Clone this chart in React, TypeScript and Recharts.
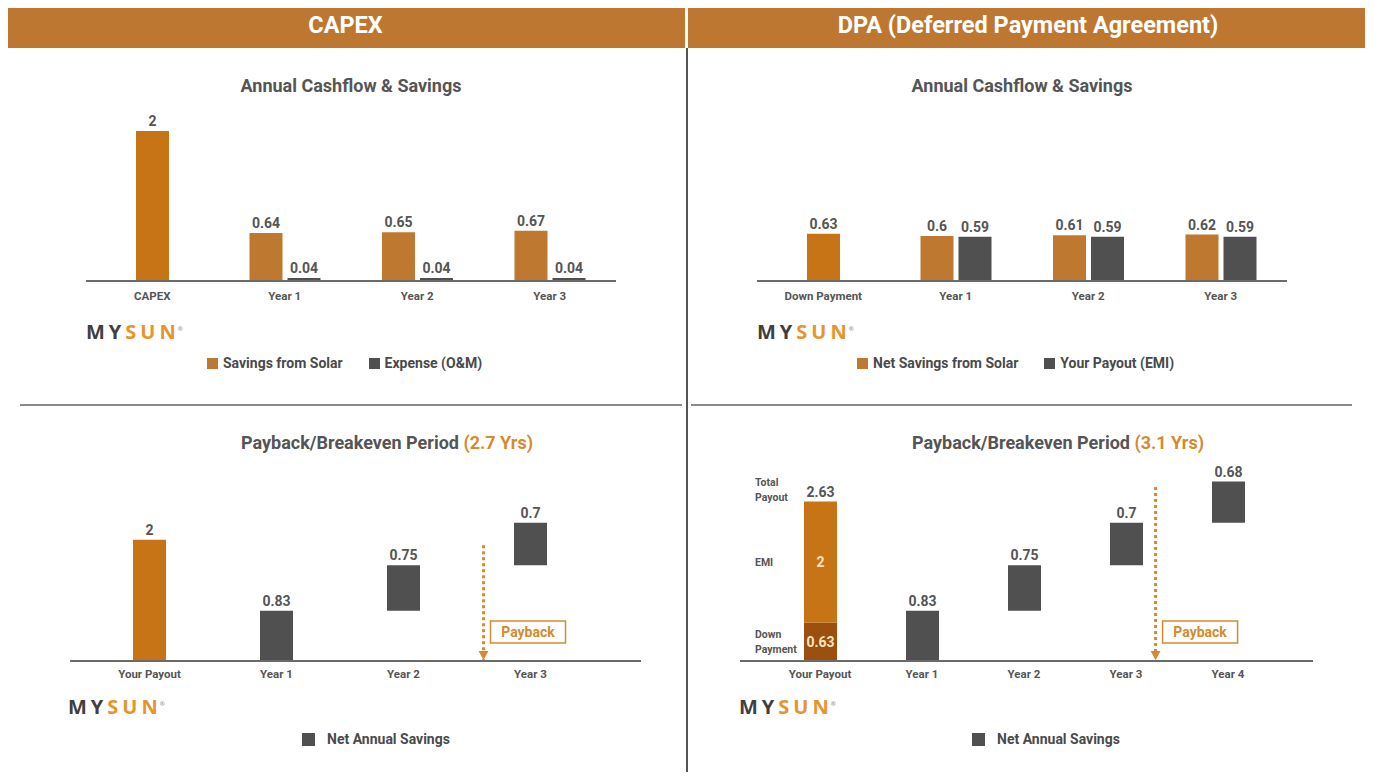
import React from "react";
import { BarChart, Bar, XAxis, YAxis, LabelList, ReferenceLine } from "recharts";

// CAPEX – annual cashflow
const capexCats = ["CAPEX", "Year 1", "Year 2", "Year 3"];
const capexUpfront = [2, null, null, null];
const capexSavings = [null, 0.64, 0.65, 0.67];
const capexExpense = [null, 0.04, 0.04, 0.04];
const capexLegend = ["Savings from Solar", "Expense (O&M)"];

// DPA – annual cashflow
const dpaCats = ["Down Payment", "Year 1", "Year 2", "Year 3"];
const dpaDown = [0.63, null, null, null];
const dpaSavings = [null, 0.6, 0.61, 0.62];
const dpaEmi = [null, 0.59, 0.59, 0.59];
const dpaLegend = ["Net Savings from Solar", "Your Payout (EMI)"];

// CAPEX – payback
const pbCapexCats = ["Your Payout", "Year 1", "Year 2", "Year 3"];
const pbCapexPayout = [2, null, null, null];
const pbCapexNet = [null, 0.83, 0.75, 0.7];
const pbCapexMarker = { at: 2.63, top: 1.91 }; // category index, value units
const pbCapexYears = "(2.7 Yrs)";

// DPA – payback
const pbDpaCats = ["Your Payout", "Year 1", "Year 2", "Year 3", "Year 4"];
const pbDpaDown = [0.63, null, null, null, null];
const pbDpaEmi = [2, null, null, null, null];
const pbDpaNet = [null, 0.83, 0.75, 0.7, 0.68];
const pbDpaMarker = { at: 3.29, top: 2.87 };
const pbDpaYears = "(3.1 Yrs)";

const netLegend = "Net Annual Savings";

const FONT = "Roboto, 'Open Sans', sans-serif";
const ORANGE_DEEP = "#C77416";
const ORANGE = "#BE7830";
const GRAY = "#505050";
const BROWN = "#9B500F";
const TEXT = "#555555";
const ACCENT = "#D58A2E";
const CREAM = "#F6E4C4";

const tickStyle = { fontSize: 11.5, fontWeight: 700, fill: TEXT, fontFamily: FONT };
const valueProps = { fill: TEXT, fontSize: 14, fontWeight: 700, fontFamily: FONT };
const axisLine = { stroke: "#6b6b6b", strokeWidth: 2 };

// waterfall base for the yearly savings
const runningBase = (net: (number | null)[]) => {
  let acc = 0;
  return net.map((v) => {
    const b = acc;
    acc += v ?? 0;
    return b;
  });
};

const rectOf = (p: any) => {
  const vb = p.viewBox ?? p;
  const y1 = Number(vb.y);
  const y2 = y1 + Number(vb.height);
  return { x: Number(vb.x), w: Number(vb.width), top: Math.min(y1, y2), bottom: Math.max(y1, y2) };
};

// little notes written left of the payout bar
const sideNote = (lines: string[], where: "top" | "center") => (p: any) => {
  if (p.value == null) return null;
  const r = rectOf(p);
  const x = r.x - 49;
  const first =
    where === "top" ? r.top - 4 - (lines.length - 1) * 15 : (r.top + r.bottom) / 2 - ((lines.length - 1) * 15) / 2;
  return (
    <g>
      {lines.map((l, i) => (
        <text
          key={l}
          x={x}
          y={first + i * 15 + 3.5}
          fill={TEXT}
          fontSize={10.5}
          fontWeight={700}
          fontFamily={FONT}
        >
          {l}
        </text>
      ))}
    </g>
  );
};

const PaybackMark = (p: any) => {
  const vb = p.viewBox ?? {};
  const x = Number(vb.x);
  const bottom = Number(vb.y) + Number(vb.height);
  return (
    <g>
      <path d={`M${x - 5},${bottom - 10} L${x + 5},${bottom - 10} L${x},${bottom - 1} Z`} fill={ACCENT} />
      <rect x={x + 7} y={bottom - 40} width={75} height={22} fill="#fff" stroke={ACCENT} strokeWidth={1.5} />
      <text
        x={x + 44.5}
        y={bottom - 24}
        textAnchor="middle"
        fill={ACCENT}
        fontSize={14}
        fontWeight={700}
        fontFamily={FONT}
      >
        Payback
      </text>
    </g>
  );
};

function CashflowChart(props: {
  left: number;
  cats: string[];
  upfront: (number | null)[];
  savings: (number | null)[];
  payout: (number | null)[];
  names: string[];
}) {
  const { left, cats, upfront, savings, payout, names } = props;
  const data = cats.map((cat, i) => ({ cat, upfront: upfront[i], savings: savings[i], payout: payout[i] }));
  return (
    <div style={{ position: "absolute", left, top: 61 }}>
      <BarChart width={570} height={250} data={data} margin={{ top: 40, right: 20, bottom: 0, left: 20 }} barGap={5}>
        <XAxis
          xAxisId="grp"
          dataKey="cat"
          axisLine={axisLine}
          tickLine={false}
          tick={tickStyle}
          tickMargin={5}
          interval={0}
        />
        <XAxis xAxisId="single" dataKey="cat" hide />
        <YAxis hide domain={[0, 2.4]} />
        <Bar xAxisId="single" dataKey="upfront" fill={ORANGE_DEEP} barSize={33} isAnimationActive={false}>
          <LabelList dataKey="upfront" position="top" {...valueProps} />
        </Bar>
        <Bar xAxisId="grp" dataKey="savings" name={names[0]} fill={ORANGE} barSize={33} isAnimationActive={false}>
          <LabelList dataKey="savings" position="top" {...valueProps} />
        </Bar>
        <Bar xAxisId="grp" dataKey="payout" name={names[1]} fill={GRAY} barSize={33} isAnimationActive={false}>
          <LabelList dataKey="payout" position="top" {...valueProps} />
        </Bar>
      </BarChart>
    </div>
  );
}

function PaybackChart(props: {
  left: number;
  width: number;
  padding: { left: number; right: number };
  cats: string[];
  payout?: (number | null)[];
  down?: (number | null)[];
  emi?: (number | null)[];
  net: (number | null)[];
  marker: { at: number; top: number };
}) {
  const { left, width, padding, cats, payout, down, emi, net, marker } = props;
  const base = runningBase(net);
  const data = cats.map((cat, i) => ({
    cat,
    base: base[i],
    payout: payout ? payout[i] : null,
    down: down ? down[i] : null,
    emi: emi ? emi[i] : null,
    total: down && emi && down[i] != null && emi[i] != null ? +((down[i] as number) + (emi[i] as number)).toFixed(2) : null,
    net: net[i],
  }));
  // numeric twin of the category axis: index i sits on the centre of band i
  const plotW = width - 40;
  const band = (plotW - padding.left - padding.right) / cats.length;
  const posPadding = { left: padding.left + band / 2, right: padding.right + band / 2 };
  return (
    <div style={{ position: "absolute", left, top: 421 }}>
      <BarChart width={width} height={270} data={data} margin={{ top: 40, right: 20, bottom: 0, left: 20 }}>
        <XAxis
          xAxisId="cat"
          dataKey="cat"
          axisLine={axisLine}
          tickLine={false}
          tick={tickStyle}
          tickMargin={3}
          interval={0}
          padding={padding}
        />
        <XAxis
          xAxisId="pos"
          type="number"
          domain={[0, cats.length - 1]}
          allowDataOverflow
          hide
          padding={posPadding}
        />
        <YAxis hide domain={[0, 3.3]} allowDataOverflow />
        <Bar xAxisId="cat" stackId="s" dataKey="base" fill="transparent" barSize={33} isAnimationActive={false} />
        {payout && (
          <Bar xAxisId="cat" stackId="s" dataKey="payout" fill={ORANGE_DEEP} barSize={33} isAnimationActive={false}>
            <LabelList dataKey="payout" position="top" {...valueProps} />
          </Bar>
        )}
        {down && (
          <Bar xAxisId="cat" stackId="s" dataKey="down" fill={BROWN} barSize={33} isAnimationActive={false}>
            <LabelList dataKey="down" position="center" {...valueProps} fill={CREAM} />
            <LabelList dataKey="down" content={sideNote(["Down", "Payment"], "center")} />
          </Bar>
        )}
        {emi && (
          <Bar xAxisId="cat" stackId="s" dataKey="emi" fill={ORANGE_DEEP} barSize={33} isAnimationActive={false}>
            <LabelList dataKey="emi" position="center" {...valueProps} fill={CREAM} />
            <LabelList dataKey="emi" content={sideNote(["EMI"], "center")} />
            <LabelList dataKey="total" position="top" {...valueProps} />
            <LabelList dataKey="total" content={sideNote(["Total", "Payout"], "top")} />
          </Bar>
        )}
        <Bar xAxisId="cat" stackId="s" dataKey="net" fill={GRAY} barSize={33} isAnimationActive={false}>
          <LabelList dataKey="net" position="top" {...valueProps} />
        </Bar>
        <ReferenceLine
          xAxisId="pos"
          segment={[
            { x: marker.at, y: marker.top },
            { x: marker.at, y: 0 },
          ]}
          stroke={ACCENT}
          strokeWidth={3}
          strokeDasharray="3 3"
          label={<PaybackMark />}
        />
      </BarChart>
    </div>
  );
}

function Logo({ left, top }: { left: number; top: number }) {
  return (
    <div
      style={{
        position: "absolute",
        left,
        top,
        fontFamily: "'Open Sans', sans-serif",
        fontWeight: 700,
        fontSize: 20,
        lineHeight: "20px",
        whiteSpace: "nowrap",
      }}
    >
      <span style={{ color: "#3f3f3f", letterSpacing: 4 }}>MY</span>
      <span style={{ color: "#E5952E", letterSpacing: 4 }}>SU</span>
      <span style={{ color: "#E5952E" }}>N</span>
      <sup style={{ fontSize: 6, color: "#999", marginLeft: 2 }}>®</sup>
    </div>
  );
}

function LegendRow(props: { left: number; top: number; items: { name: string; color: string }[]; sq: number; gap: number }) {
  const { left, top, items, sq, gap } = props;
  return (
    <div style={{ position: "absolute", left, top, display: "flex", alignItems: "center", whiteSpace: "nowrap" }}>
      {items.map((it, i) => (
        <div key={it.name} style={{ display: "flex", alignItems: "center", marginLeft: i ? 26 : 0 }}>
          <span style={{ width: sq, height: sq, background: it.color, display: "inline-block", marginRight: gap }} />
          <span style={{ fontSize: 14, fontWeight: 700, color: "#4a4a4a", lineHeight: "16px" }}>{it.name}</span>
        </div>
      ))}
    </div>
  );
}

function Title({ cx, top, text, accent }: { cx: number; top: number; text: string; accent?: string }) {
  return (
    <div
      style={{
        position: "absolute",
        left: cx,
        top,
        transform: "translateX(-50%)",
        fontSize: 18,
        fontWeight: 700,
        color: TEXT,
        lineHeight: "20px",
        whiteSpace: "nowrap",
      }}
    >
      {text}
      {accent && <span style={{ color: ACCENT }}> {accent}</span>}
    </div>
  );
}

function Header({ left, width, text }: { left: number; width: number; text: string }) {
  return (
    <div
      style={{
        position: "absolute",
        left,
        top: 3,
        width,
        height: 45,
        background: "#BE7731",
        color: "#fff",
        fontSize: 23.5,
        fontWeight: 700,
        lineHeight: "45px",
        textAlign: "center",
      }}
    >
      {text}
    </div>
  );
}

export default function App() {
  return (
    <div
      style={{
        position: "relative",
        width: 1373,
        height: 780,
        margin: -8,
        background: "#fff",
        fontFamily: FONT,
        overflow: "hidden",
      }}
    >
      <Header left={6} width={679} text="CAPEX" />
      <Header left={688} width={680} text="DPA (Deferred Payment Agreement)" />
      <div style={{ position: "absolute", left: 686, top: 48, width: 1.5, height: 732, background: "#555" }} />
      <div style={{ position: "absolute", left: 20, top: 404, width: 662, height: 2, background: "#8a8a8a" }} />
      <div style={{ position: "absolute", left: 691, top: 404, width: 661, height: 2, background: "#8a8a8a" }} />

      <Title cx={351} top={76} text="Annual Cashflow & Savings" />
      <CashflowChart
        left={66}
        cats={capexCats}
        upfront={capexUpfront}
        savings={capexSavings}
        payout={capexExpense}
        names={capexLegend}
      />
      <Logo left={86} top={319} />
      <LegendRow
        left={207}
        top={355}
        sq={11}
        gap={5}
        items={[
          { name: capexLegend[0], color: ORANGE },
          { name: capexLegend[1], color: GRAY },
        ]}
      />

      <Title cx={1022} top={76} text="Annual Cashflow & Savings" />
      <CashflowChart
        left={737}
        cats={dpaCats}
        upfront={dpaDown}
        savings={dpaSavings}
        payout={dpaEmi}
        names={dpaLegend}
      />
      <Logo left={757} top={319} />
      <LegendRow
        left={857}
        top={355}
        sq={11}
        gap={5}
        items={[
          { name: dpaLegend[0], color: ORANGE },
          { name: dpaLegend[1], color: GRAY },
        ]}
      />

      <Title cx={387} top={433} text="Payback/Breakeven Period" accent={pbCapexYears} />
      <PaybackChart
        left={50}
        width={611}
        padding={{ left: 16, right: 47 }}
        cats={pbCapexCats}
        payout={pbCapexPayout}
        net={pbCapexNet}
        marker={pbCapexMarker}
      />
      <Logo left={68} top={694} />
      <LegendRow left={302} top={731} sq={13} gap={12} items={[{ name: netLegend, color: GRAY }]} />

      <Title cx={1058} top={433} text="Payback/Breakeven Period" accent={pbDpaYears} />
      <PaybackChart
        left={720}
        width={613}
        padding={{ left: 29, right: 34 }}
        cats={pbDpaCats}
        down={pbDpaDown}
        emi={pbDpaEmi}
        net={pbDpaNet}
        marker={pbDpaMarker}
      />
      <Logo left={739} top={694} />
      <LegendRow left={972} top={731} sq={13} gap={12} items={[{ name: netLegend, color: GRAY }]} />
    </div>
  );
}
